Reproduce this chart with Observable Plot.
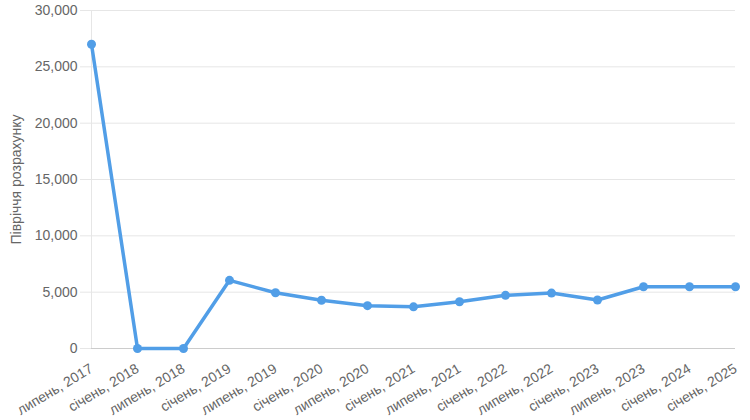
<!DOCTYPE html>
<html>
<head>
<meta charset="utf-8">
<script src="https://cdn.jsdelivr.net/npm/d3@7"></script>
<script src="https://cdn.jsdelivr.net/npm/@observablehq/plot@0.6"></script>
<style>
  html, body { margin: 0; padding: 0; background: #fff; }
  #chart { width: 750px; height: 420px; }
</style>
</head>
<body>
<div id="chart"></div>
<script>
const periods = [
  "липень, 2017", "січень, 2018", "липень, 2018", "січень, 2019", "липень, 2019",
  "січень, 2020", "липень, 2020", "січень, 2021", "липень, 2021", "січень, 2022",
  "липень, 2022", "січень, 2023", "липень, 2023", "січень, 2024", "січень, 2025"
];
const values = [27000, 0, 0, 6050, 4950, 4280, 3800, 3700, 4150, 4720, 4920, 4300, 5480, 5480, 5480];
const yTicks = [0, 5000, 10000, 15000, 20000, 25000, 30000];
const yLabel = "Півріччя розрахунку";

const data = periods.map((p, i) => ({period: p, value: values[i]}));
const color = "#519ee7";

const chart = Plot.plot({
  width: 750,
  height: 420,
  marginLeft: 91,
  marginRight: 15,
  marginTop: 10,
  marginBottom: 72,
  style: {fontFamily: "'Liberation Sans', Arial, sans-serif", fontSize: "14px", color: "#666", background: "#fff"},
  x: {type: "point", domain: periods, padding: 0},
  y: {domain: [0, 30000]},
  marks: [
    Plot.gridY(yTicks, {stroke: "#e6e6e6", strokeOpacity: 1}),
    Plot.ruleX([periods[0]], {stroke: "#e6e6e6", strokeOpacity: 1}),
    Plot.axisY(yTicks, {tickSize: 11, tickPadding: 3, stroke: "#e6e6e6", strokeOpacity: 1, fill: "#666",
      tickFormat: d3.format(","), label: yLabel, labelAnchor: "center", labelArrow: "none", labelOffset: 80}),
    Plot.ruleY([0], {stroke: "#cccccc"}),
    Plot.axisX({tickSize: 0, tickPadding: 19, tickRotate: -31, fill: "#666", label: null}),
    Plot.line(data, {x: "period", y: "value", stroke: color, strokeWidth: 3.5}),
    Plot.dot(data, {x: "period", y: "value", fill: color, r: 4.5})
  ]
});
document.getElementById("chart").appendChild(chart);
</script>
</body>
</html>
